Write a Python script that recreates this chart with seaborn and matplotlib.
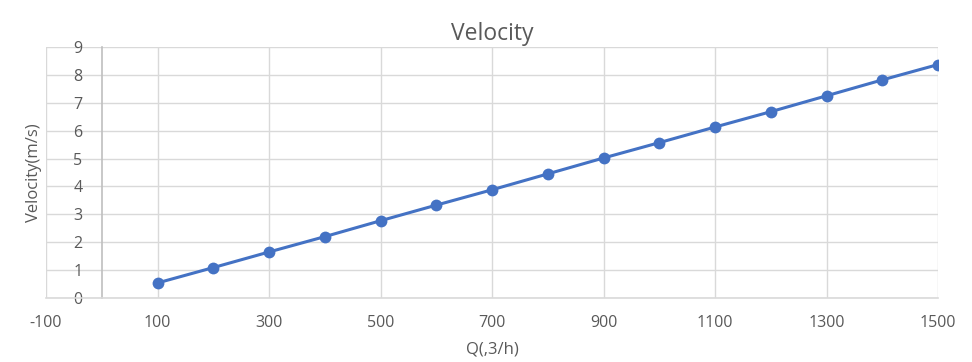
import pandas as pd
import seaborn as sns
import matplotlib.pyplot as plt

flow = [100, 200, 300, 400, 500, 600, 700, 800, 900, 1000, 1100, 1200, 1300, 1400, 1500]
velocity = [0.54, 1.09, 1.65, 2.20, 2.77, 3.33, 3.88, 4.45, 5.02, 5.57, 6.13, 6.68, 7.25, 7.82, 8.37]
x_ticks = [-100, 100, 300, 500, 700, 900, 1100, 1300, 1500]
y_ticks = list(range(0, 10))

df = pd.DataFrame({"Q": flow, "Velocity": velocity})

sns.set_theme(style="white")
plt.rcParams["font.family"] = ["Open Sans", "DejaVu Sans"]
plt.rcParams["axes.unicode_minus"] = False
text_color = "#595959"
grid_color = "#d9d9d9"

fig = plt.figure(figsize=(9.72, 3.62), dpi=100)
ax = fig.add_axes([46 / 972, 64 / 362, 892 / 972, 251 / 362])

sns.lineplot(
    data=df, x="Q", y="Velocity", ax=ax, color="#4472C4", linewidth=2.2,
    marker="o", markersize=8.5, markeredgewidth=0, zorder=3,
)

ax.set_xlim(-100, 1500)
ax.set_ylim(0, 9)
ax.set_xticks(x_ticks)
ax.set_yticks(y_ticks)

# grid lines
for xv in x_ticks:
    ax.axvline(xv, color=grid_color, linewidth=1, zorder=0)
for yv in y_ticks:
    ax.axhline(yv, color=grid_color, linewidth=1, zorder=0)

for s in ["top", "right"]:
    ax.spines[s].set_visible(False)
ax.spines["bottom"].set_color(grid_color)
ax.spines["bottom"].set_linewidth(1.2)
ax.spines["left"].set_position(("data", 0))
ax.spines["left"].set_color("#bfbfbf")
ax.spines["left"].set_linewidth(1.2)

ax.tick_params(axis="both", length=0, labelsize=11.5, labelcolor=text_color)
ax.tick_params(axis="x", pad=12)
ax.tick_params(axis="y", pad=14)

ax.set_title("Velocity", fontsize=16.5, color=text_color, pad=5)
ax.set_xlabel("Q(,3/h)", fontsize=12, color=text_color)
ax.set_ylabel("Velocity(m/s)", fontsize=12, color=text_color)
ax.yaxis.set_label_coords(-0.004, 0.5)
ax.xaxis.set_label_coords(0.5, -0.175)

fig.savefig("out.png", dpi=100)
